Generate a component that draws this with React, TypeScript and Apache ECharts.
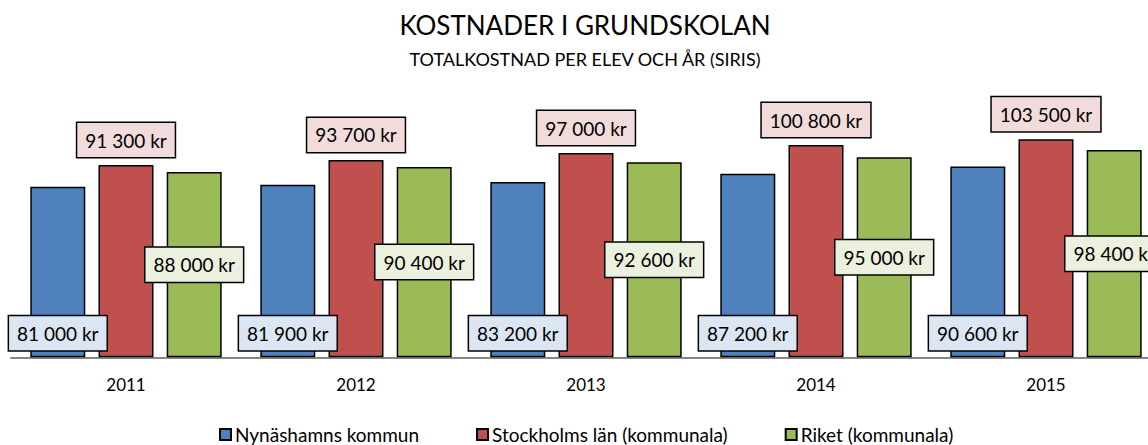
import React, { useEffect, useRef } from "react";
import * as echarts from "echarts";

const years = ["2011", "2012", "2013", "2014", "2015"];
const nynashamn = [81000, 81900, 83200, 87200, 90600];
const stockholm = [91300, 93700, 97000, 100800, 103500];
const riket = [88000, 90400, 92600, 95000, 98400];
const seriesNames = ["Nynäshamns kommun", "Stockholms län (kommunala)", "Riket (kommunala)"];
const titleText = "KOSTNADER I GRUNDSKOLAN";
const subtitleText = "TOTALKOSTNAD PER ELEV OCH ÅR (SIRIS)";

const FONT = "Lato";

const fmt = (v: number) => v.toString().replace(/\B(?=(\d{3})+(?!\d))/g, " ") + " kr";

export default function App() {
  const ref = useRef<HTMLDivElement>(null);
  useEffect(() => {
    if (!ref.current) return;
    const chart = echarts.init(ref.current, null, { renderer: "svg" });
    const labelBase = {
      show: true,
      color: "#000",
      fontFamily: FONT,
      fontSize: 19,
      lineHeight: 22,
      padding: [6, 8, 6, 8],
      borderColor: "#000",
      borderWidth: 1.5,
      formatter: (p: any) => fmt(p.value),
    };
    const mk = (name: string, data: number[], color: string, labelBg: string, position: string, z: number, distance: number) => ({
      name,
      type: "bar",
      data,
      barWidth: 55,
      barGap: "24%",
      z,
      itemStyle: { color, borderColor: "#000", borderWidth: 1.5 },
      label: { ...labelBase, backgroundColor: labelBg, position, distance },
    });
    chart.setOption({
      animation: false,
      graphic: [
        {
          type: "text",
          x: 585,
          y: 25,
          style: { text: titleText, fontFamily: FONT, fontSize: 26, fill: "#000", textAlign: "center", textVerticalAlign: "middle" },
        },
        {
          type: "text",
          x: 585,
          y: 59,
          style: { text: subtitleText, fontFamily: FONT, fontSize: 18, fill: "#000", textAlign: "center", textVerticalAlign: "middle" },
        },
      ],
      legend: {
        data: seriesNames,
        left: 219,
        top: 425,
        padding: 0,
        itemWidth: 11,
        itemHeight: 11,
        itemGap: 57,
        icon: "rect",
        textStyle: { fontFamily: FONT, fontSize: 19, lineHeight: 19, color: "#000", padding: [0, 0, 0, -1] },
      },
      grid: { left: 11, width: 1150, top: 104.6, bottom: 87.7, outerBoundsMode: "none", containLabel: false },
      xAxis: {
        type: "category",
        data: years,
        axisLine: { lineStyle: { color: "#868686", width: 2 } },
        axisTick: { show: false },
        axisLabel: { fontFamily: FONT, fontSize: 17, color: "#000", margin: 19 },
      },
      yAxis: {
        type: "value",
        min: 0,
        max: 120000,
        show: false,
        splitLine: { show: false },
      },
      series: [
        mk(seriesNames[0], nynashamn, "#4f81bd", "#dce6f2", "insideBottom", 4, 7),
        mk(seriesNames[1], stockholm, "#c0504d", "#f2dcdb", "top", 2, 8),
        mk(seriesNames[2], riket, "#9bbb59", "#ebf1de", "inside", 3, 0),
      ],
    });
    return () => chart.dispose();
  }, []);
  return (
    <div
      ref={ref}
      style={{ position: "absolute", left: 0, top: 0, width: 1148, height: 445, background: "#fff" }}
    />
  );
}
